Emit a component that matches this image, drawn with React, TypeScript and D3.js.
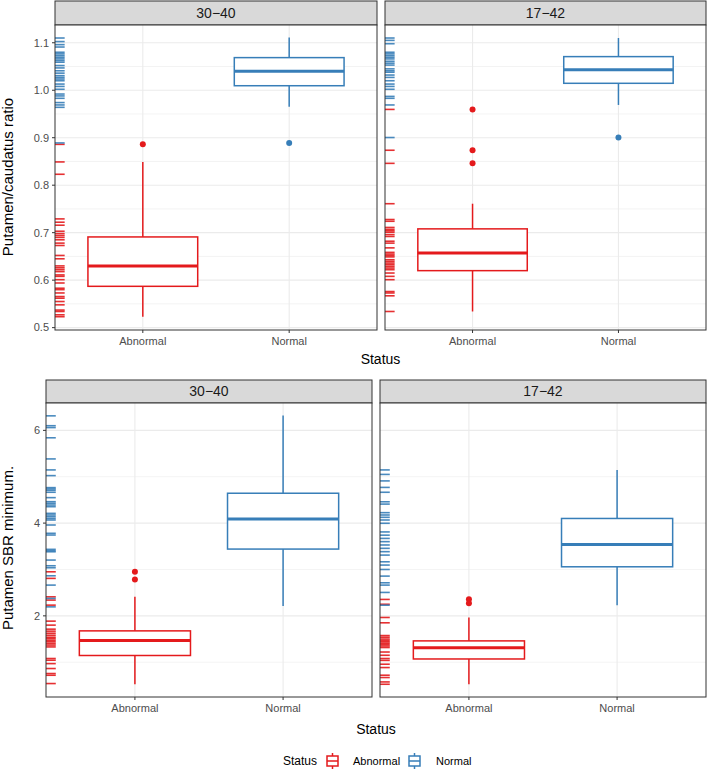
import React from "react";
import * as d3 from "d3";

// ---------- data ----------
const statuses = ["Abnormal", "Normal"];
const facets = ["30−40", "17−42"];
const yTitles = ["Putamen/caudatus ratio", "Putamen SBR minimum."];
const ratioTicks = [0.5, 0.6, 0.7, 0.8, 0.9, 1.0, 1.1];
const ratioTickLabels = ["0.5", "0.6", "0.7", "0.8", "0.9", "1.0", "1.1"];
const sbrTicks = [2, 4, 6];
const sbrTickLabels = ["2", "4", "6"];

// box stats: [lower whisker, q1, median, q3, upper whisker]
const ratioBox3040Abnormal = [0.523, 0.587, 0.63, 0.691, 0.849];
const ratioBox3040Normal = [0.965, 1.0095, 1.04, 1.0687, 1.111];
const ratioBox1742Abnormal = [0.534, 0.62, 0.657, 0.708, 0.761];
const ratioBox1742Normal = [0.969, 1.0146, 1.0433, 1.0708, 1.11];
const sbrBox3040Abnormal = [0.525, 1.145, 1.469, 1.676, 2.41];
const sbrBox3040Normal = [2.21, 3.44, 4.09, 4.644, 6.32];
const sbrBox1742Abnormal = [0.525, 1.07, 1.31, 1.46, 1.965];
const sbrBox1742Normal = [2.23, 3.058, 3.54, 4.1, 5.147];

// outliers
const ratioOut3040Abnormal = [0.886];
const ratioOut3040Normal = [0.889];
const ratioOut1742Abnormal = [0.9596, 0.8736, 0.846];
const ratioOut1742Normal = [0.9004];
const sbrOut3040Abnormal = [2.95, 2.786];
const sbrOut3040Normal: number[] = [];
const sbrOut1742Abnormal = [2.36, 2.27];
const sbrOut1742Normal: number[] = [];

// rug values
const ratioRug3040Normal = [1.11, 1.1025, 1.096, 1.091, 1.08, 1.0766, 1.073, 1.0695, 1.066, 1.0624, 1.059, 1.052, 1.047, 1.041, 1.036, 1.0307, 1.027, 1.0236, 1.02, 1.013, 1.008, 1.002, 0.992, 0.988, 0.983, 0.974, 0.969, 0.964, 0.889];
const ratioRug3040Abnormal = [0.886, 0.849, 0.823, 0.729, 0.722, 0.7157, 0.703, 0.698, 0.694, 0.69, 0.685, 0.678, 0.673, 0.652, 0.645, 0.63, 0.626, 0.622, 0.618, 0.611, 0.608, 0.601, 0.594, 0.583, 0.58, 0.573, 0.5655, 0.562, 0.555, 0.548, 0.537, 0.534, 0.527, 0.523];
const ratioRug1742Normal = [1.11, 1.105, 1.098, 1.08, 1.0766, 1.073, 1.0695, 1.066, 1.061, 1.057, 1.053, 1.045, 1.041, 1.038, 1.032, 1.027, 1.02, 1.013, 1.008, 1.002, 0.987, 0.983, 0.969, 0.9004];
const ratioRug1742Abnormal = [0.9596, 0.8736, 0.846, 0.761, 0.7277, 0.724, 0.711, 0.707, 0.704, 0.701, 0.696, 0.692, 0.682, 0.678, 0.668, 0.6585, 0.655, 0.652, 0.649, 0.643, 0.6395, 0.636, 0.6326, 0.629, 0.6255, 0.622, 0.615, 0.608, 0.601, 0.576, 0.573, 0.567, 0.534];
const sbrRug3040Normal = [6.313, 6.1, 6.06, 5.84, 5.384, 5.147, 5.024, 4.765, 4.737, 4.708, 4.665, 4.549, 4.462, 4.428, 4.39, 4.354, 4.21, 4.175, 4.138, 4.1, 4.067, 3.959, 3.78, 3.743, 3.434, 3.404, 3.382, 3.203, 3.08, 3.037, 2.864, 2.663, 2.376, 2.194];
const sbrRug3040Abnormal = [2.95, 2.808, 2.41, 2.34, 2.231, 1.886, 1.8, 1.713, 1.67, 1.626, 1.583, 1.54, 1.51, 1.475, 1.44, 1.404, 1.37, 1.33, 1.08, 1.043, 0.97, 0.864, 0.756, 0.719, 0.54];
const sbrRug1742Normal = [5.147, 5.05, 4.91, 4.77, 4.665, 4.46, 4.41, 4.225, 4.175, 4.125, 4.067, 3.996, 3.81, 3.74, 3.67, 3.6, 3.528, 3.456, 3.384, 3.31, 3.166, 3.095, 3.0, 2.857, 2.713, 2.663, 2.505, 2.23];
const sbrRug1742Abnormal = [2.354, 2.25, 1.965, 1.85, 1.575, 1.54, 1.5, 1.47, 1.44, 1.41, 1.38, 1.35, 1.317, 1.22, 1.15, 1.08, 1.04, 0.957, 0.885, 0.72, 0.67, 0.575, 0.525];

// ---------- styling ----------
const RED = "#E41A1C";
const BLUE = "#377EB8";
const colors: Record<string, string> = { Abnormal: RED, Normal: BLUE };
const FONT = "'Liberation Sans', Arial, sans-serif";

type PanelData = {
  facet: string;
  box: Record<string, number[]>;
  out: Record<string, number[]>;
  rug: Record<string, number[]>;
};

type RowCfg = {
  yTitle: string;
  domain: [number, number];
  ticks: number[];
  tickLabels: string[];
  minor: number[];
  stripTop: number;
  panelTop: number;
  panelBottom: number;
  panelX: [number, number][];
  xLabelY: number;
  titleY: number;
  yTitleCenter: number;
  panels: PanelData[];
};

const rows: RowCfg[] = [
  {
    yTitle: yTitles[0],
    domain: [0.495, 1.1374],
    ticks: ratioTicks,
    tickLabels: ratioTickLabels,
    minor: [0.55, 0.65, 0.75, 0.85, 0.95, 1.05],
    stripTop: 1,
    panelTop: 25,
    panelBottom: 330,
    panelX: [[55, 377], [385, 706]],
    xLabelY: 341,
    titleY: 359,
    yTitleCenter: 177,
    panels: [
      { facet: facets[0], box: { Abnormal: ratioBox3040Abnormal, Normal: ratioBox3040Normal }, out: { Abnormal: ratioOut3040Abnormal, Normal: ratioOut3040Normal }, rug: { Abnormal: ratioRug3040Abnormal, Normal: ratioRug3040Normal } },
      { facet: facets[1], box: { Abnormal: ratioBox1742Abnormal, Normal: ratioBox1742Normal }, out: { Abnormal: ratioOut1742Abnormal, Normal: ratioOut1742Normal }, rug: { Abnormal: ratioRug1742Abnormal, Normal: ratioRug1742Normal } },
    ],
  },
  {
    yTitle: yTitles[1],
    domain: [0.25, 6.59],
    ticks: sbrTicks,
    tickLabels: sbrTickLabels,
    minor: [1, 3, 5],
    stripTop: 380,
    panelTop: 403,
    panelBottom: 697,
    panelX: [[46, 372], [380, 706]],
    xLabelY: 708,
    titleY: 729,
    yTitleCenter: 548,
    panels: [
      { facet: facets[0], box: { Abnormal: sbrBox3040Abnormal, Normal: sbrBox3040Normal }, out: { Abnormal: sbrOut3040Abnormal, Normal: sbrOut3040Normal }, rug: { Abnormal: sbrRug3040Abnormal, Normal: sbrRug3040Normal } },
      { facet: facets[1], box: { Abnormal: sbrBox1742Abnormal, Normal: sbrBox1742Normal }, out: { Abnormal: sbrOut1742Abnormal, Normal: sbrOut1742Normal }, rug: { Abnormal: sbrRug1742Abnormal, Normal: sbrRug1742Normal } },
    ],
  },
];

function Row({ cfg }: { cfg: RowCfg }) {
  const y = d3.scaleLinear().domain(cfg.domain).range([cfg.panelBottom, cfg.panelTop]);
  const midX = (cfg.panelX[0][0] + cfg.panelX[1][1]) / 2;
  return (
    <g>
      {/* y axis title */}
      <text
        transform={`translate(13,${cfg.yTitleCenter}) rotate(-90)`}
        textAnchor="middle"
        fontSize={15}
        fill="#000"
      >
        {cfg.yTitle}
      </text>
      {/* y tick labels and ticks */}
      {cfg.ticks.map((t, i) => (
        <g key={t}>
          <text x={cfg.panelX[0][0] - 6} y={y(t)} dy="0.35em" textAnchor="end" fontSize={11} fill="#4D4D4D">
            {cfg.tickLabels[i]}
          </text>
          <line x1={cfg.panelX[0][0] - 3} x2={cfg.panelX[0][0]} y1={y(t)} y2={y(t)} stroke="#333" strokeWidth={1} />
        </g>
      ))}
      {cfg.panels.map((p, pi) => {
        const [x0, x1] = cfg.panelX[pi];
        const x = d3.scalePoint<string>().domain(statuses).range([x0, x1]).padding(0.6);
        const bw = x.step() * 0.75;
        const rugLen = (x1 - x0) * 0.03;
        return (
          <g key={p.facet}>
            {/* strip */}
            <rect x={x0} y={cfg.stripTop} width={x1 - x0} height={cfg.panelTop - cfg.stripTop} fill="#D9D9D9" stroke="#333" strokeWidth={1} />
            <text x={(x0 + x1) / 2} y={(cfg.stripTop + cfg.panelTop) / 2} dy="0.35em" textAnchor="middle" fontSize={14} fill="#1A1A1A">
              {p.facet}
            </text>
            {/* panel background */}
            <rect x={x0} y={cfg.panelTop} width={x1 - x0} height={cfg.panelBottom - cfg.panelTop} fill="#fff" />
            {/* grid */}
            {cfg.minor.map((m) => (
              <line key={"m" + m} x1={x0} x2={x1} y1={y(m)} y2={y(m)} stroke="#EBEBEB" strokeWidth={0.6} />
            ))}
            {cfg.ticks.map((t) => (
              <line key={"t" + t} x1={x0} x2={x1} y1={y(t)} y2={y(t)} stroke="#EBEBEB" strokeWidth={1.1} />
            ))}
            {statuses.map((s) => (
              <line key={"g" + s} x1={x(s)!} x2={x(s)!} y1={cfg.panelTop} y2={cfg.panelBottom} stroke="#EBEBEB" strokeWidth={1.1} />
            ))}
            {/* boxes */}
            {statuses.map((s) => {
              const [lo, q1, med, q3, hi] = p.box[s];
              const cx = x(s)!;
              const c = colors[s];
              return (
                <g key={"b" + s}>
                  <line x1={cx} x2={cx} y1={y(hi)} y2={y(q3)} stroke={c} strokeWidth={1.5} />
                  <line x1={cx} x2={cx} y1={y(q1)} y2={y(lo)} stroke={c} strokeWidth={1.5} />
                  <rect x={cx - bw / 2} y={y(q3)} width={bw} height={y(q1) - y(q3)} fill="#fff" stroke={c} strokeWidth={1.5} />
                  <line x1={cx - bw / 2} x2={cx + bw / 2} y1={y(med)} y2={y(med)} stroke={c} strokeWidth={3} />
                  {p.out[s].map((o, oi) => (
                    <circle key={oi} cx={cx} cy={y(o)} r={3} fill={c} />
                  ))}
                </g>
              );
            })}
            {/* rugs */}
            {statuses.map((s) =>
              p.rug[s].map((v, vi) => (
                <line key={"r" + s + vi} x1={x0} x2={x0 + rugLen} y1={y(v)} y2={y(v)} stroke={colors[s]} strokeWidth={1.6} opacity={0.9} />
              ))
            )}
            {/* panel border */}
            <rect x={x0} y={cfg.panelTop} width={x1 - x0} height={cfg.panelBottom - cfg.panelTop} fill="none" stroke="#333" strokeWidth={1} />
            {/* x ticks */}
            {statuses.map((s) => (
              <g key={"x" + s}>
                <line x1={x(s)!} x2={x(s)!} y1={cfg.panelBottom} y2={cfg.panelBottom + 3} stroke="#333" strokeWidth={1} />
                <text x={x(s)!} y={cfg.xLabelY} dy="0.35em" textAnchor="middle" fontSize={11} fill="#4D4D4D">
                  {s}
                </text>
              </g>
            ))}
          </g>
        );
      })}
      <text x={midX} y={cfg.titleY} dy="0.35em" textAnchor="middle" fontSize={14} fill="#000">
        Status
      </text>
    </g>
  );
}

function LegendKey({ x, y, color }: { x: number; y: number; color: string }) {
  return (
    <g>
      <line x1={x} x2={x} y1={y - 8} y2={y - 5} stroke={color} strokeWidth={1.5} />
      <line x1={x} x2={x} y1={y + 5} y2={y + 8} stroke={color} strokeWidth={1.5} />
      <rect x={x - 5.5} y={y - 5} width={11} height={10} fill="#fff" stroke={color} strokeWidth={1.5} />
      <line x1={x - 5.5} x2={x + 5.5} y1={y} y2={y} stroke={color} strokeWidth={1.5} />
    </g>
  );
}

export default function App() {
  const legendY = 761;
  const keyX = [332.5, 414.5];
  const labelX = [353, 436];
  return (
    <svg
      width={708}
      height={770}
      style={{ position: "absolute", left: 0, top: 0, display: "block", background: "#fff" }}
      fontFamily={FONT}
    >
      <rect width={708} height={770} fill="#fff" />
      {rows.map((r, i) => (
        <Row key={i} cfg={r} />
      ))}
      <g>
        <text x={283} y={legendY} dy="0.35em" fontSize={12} fill="#000">
          Status
        </text>
        {statuses.map((s, i) => (
          <g key={s}>
            <LegendKey x={keyX[i]} y={legendY} color={colors[s]} />
            <text x={labelX[i]} y={legendY} dy="0.35em" fontSize={11} fill="#000">
              {s}
            </text>
          </g>
        ))}
      </g>
    </svg>
  );
}
